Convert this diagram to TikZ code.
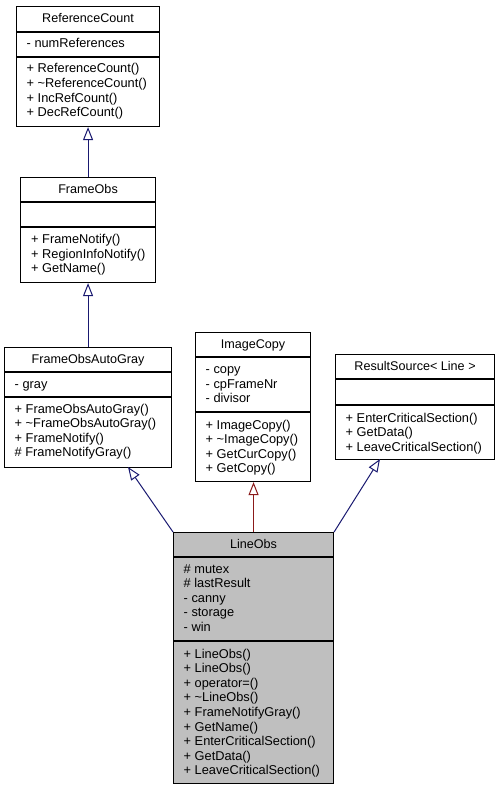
\documentclass[tikz,border=0pt]{standalone}
\usepackage{fontspec}
\setmainfont{Liberation Sans}
\usetikzlibrary{arrows.meta}
\definecolor{pubblue}{HTML}{191970}
\definecolor{privred}{HTML}{8B1A1A}
\definecolor{boxgray}{HTML}{BFBFBF}
\newcommand\mlines[4]{%
  \foreach \t [count=\i from 0] in {#4} {\node[txt] (#1\i) at (#2,{#3+14.6*\i}) {\t};}}
\begin{document}
\begin{tikzpicture}[x=1pt,y=-1pt,
  cls/.style={draw=black, line width=1.1pt, fill=white, rectangle, inner sep=0pt, anchor=north west},
  sepline/.style={draw=black, line width=1.1pt},
  txt/.style={inner sep=0pt, anchor=base west, font=\fontsize{12.8}{14.6}\selectfont},
  ttl/.style={inner sep=0pt, anchor=base, font=\fontsize{12.6}{14.6}\selectfont},
  inh/.style={-{Triangle[open, length=13pt, width=10pt]}, line width=1pt},
]
\useasboundingbox (0,0) rectangle (499,789);

% ReferenceCount
\node[cls, minimum width=143pt, minimum height=120pt] (rc) at (16,6) {};
\draw[sepline] (rc.west |- 0,32) -- (rc.east |- 0,32);
\draw[sepline] (rc.west |- 0,57) -- (rc.east |- 0,57);
\node[ttl] (rct) at (rc.north |- 0,23) {ReferenceCount};
\mlines{rca}{26.5}{48}{- numReferences}
\mlines{rcm}{26.5}{73}{+ ReferenceCount(),+ \textasciitilde ReferenceCount(),+ IncRefCount(),+ DecRefCount()}

% FrameObs
\node[cls, minimum width=135pt, minimum height=105pt] (fo) at (20,177) {};
\draw[sepline] (fo.west |- 0,202) -- (fo.east |- 0,202);
\draw[sepline] (fo.west |- 0,227) -- (fo.east |- 0,227);
\node[ttl] (fot) at (fo.north |- 0,193) {FrameObs};
\mlines{fom}{31}{243.5}{+ FrameNotify(),+ RegionInfoNotify(),+ GetName()}

% FrameObsAutoGray
\node[cls, minimum width=167pt, minimum height=120pt] (foag) at (4,347) {};
\draw[sepline] (foag.west |- 0,372) -- (foag.east |- 0,372);
\draw[sepline] (foag.west |- 0,397) -- (foag.east |- 0,397);
\node[ttl] (foagt) at (foag.north |- 0,363) {FrameObsAutoGray};
\mlines{foaga}{14.5}{388}{- gray}
\mlines{foagm}{14.5}{413}{+ FrameObsAutoGray(),+ \textasciitilde FrameObsAutoGray(),+ FrameNotify(),\# FrameNotifyGray()}

% ImageCopy
\node[cls, minimum width=115pt, minimum height=149pt] (ic) at (195,332) {};
\draw[sepline] (ic.west |- 0,357) -- (ic.east |- 0,357);
\draw[sepline] (ic.west |- 0,412) -- (ic.east |- 0,412);
\node[ttl] (ict) at (ic.north |- 0,348) {ImageCopy};
\mlines{ica}{205.5}{373.5}{- copy,- cpFrameNr,- divisor}
\mlines{icm}{205.5}{429}{+ ImageCopy(),+ \textasciitilde ImageCopy(),+ GetCurCopy(),+ GetCopy()}

% ResultSource< Line >
\node[cls, minimum width=159pt, minimum height=105pt] (rs) at (335,354) {};
\draw[sepline] (rs.west |- 0,379) -- (rs.east |- 0,379);
\draw[sepline] (rs.west |- 0,405) -- (rs.east |- 0,405);
\node[ttl] (rst) at (rs.north |- 0,370) {ResultSource< Line >};
\mlines{rsm}{345.5}{422}{+ EnterCriticalSection(),+ GetData(),+ LeaveCriticalSection()}

% LineObs
\node[cls, fill=boxgray, minimum width=160pt, minimum height=251pt] (lo) at (173,532) {};
\draw[sepline] (lo.west |- 0,557) -- (lo.east |- 0,557);
\draw[sepline] (lo.west |- 0,641) -- (lo.east |- 0,641);
\node[ttl] (lot) at (lo.north |- 0,548) {LineObs};
\mlines{loa}{183.5}{573}{\# mutex,\# lastResult,- canny,- storage,- win}
\mlines{lom}{183.5}{658}{+ LineObs(),+ LineObs(),+ operator=(),+ \textasciitilde LineObs(),+ FrameNotifyGray(),+ GetName(),+ EnterCriticalSection(),+ GetData(),+ LeaveCriticalSection()}

% inheritance
\coordinate (foagtip) at (128,467);
\coordinate (rstip) at (380,459);
\draw[inh, pubblue] (fo.north) -- (rc.south);
\draw[inh, pubblue] (foag.north) -- (fo.south);
\draw[inh, pubblue] (lo.north west) -- (foagtip);
\draw[inh, privred] (lo.north) -- (lo.north |- ic.south);
\draw[inh, pubblue] (lo.north east) -- (rstip);
\end{tikzpicture}
\end{document}
